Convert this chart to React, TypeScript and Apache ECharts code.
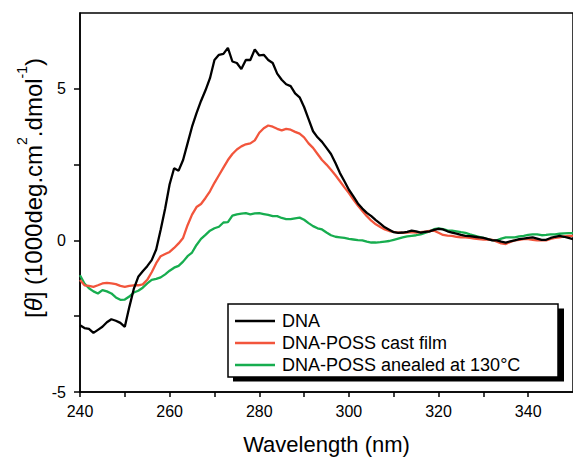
import React, { useEffect, useRef } from "react";
import * as echarts from "echarts";

const FONT = "'Liberation Sans', Arial, Helvetica, sans-serif";

const seriesNames = ["DNA", "DNA-POSS cast film", "DNA-POSS anealed at 130°C"];
const seriesColors = ["#000000", "#f2553c", "#17ad4f"];

const wavelengths = [
  240, 241, 242, 243, 244, 245, 246, 247, 248, 249,
  250, 251, 252, 253, 254, 255, 256, 257, 258, 259,
  260, 261, 262, 263, 264, 265, 266, 267, 268, 269,
  270, 271, 272, 273, 274, 275, 276, 277, 278, 279,
  280, 281, 282, 283, 284, 285, 286, 287, 288, 289,
  290, 291, 292, 293, 294, 295, 296, 297, 298, 299,
  300, 301, 302, 303, 304, 305, 306, 307, 308, 309,
  310, 311, 312, 313, 314, 315, 316, 317, 318, 319,
  320, 321, 322, 323, 324, 325, 326, 327, 328, 329,
  330, 331, 332, 333, 334, 335, 336, 337, 338, 339,
  340, 341, 342, 343, 344, 345, 346, 347, 348, 349,
  350,
];

const dnaValues = [
  -2.8, -2.89, -2.92, -3.05, -2.95, -2.85, -2.7, -2.6, -2.65, -2.72,
  -2.85, -2.2, -1.6, -1.2, -1.02, -0.85, -0.65, -0.3, 0.35, 1.05,
  1.85, 2.38, 2.3, 2.65, 3.2, 3.75, 4.2, 4.6, 4.95, 5.35,
  5.95, 6.12, 6.15, 6.35, 5.9, 5.85, 5.65, 5.95, 5.95, 6.3,
  6.1, 6.12, 5.95, 5.85, 5.5, 5.3, 5.15, 5.09, 4.85, 4.72,
  4.4, 4.0, 3.6, 3.4, 3.25, 3.05, 2.85, 2.55, 2.22, 1.95,
  1.67, 1.45, 1.22, 1.05, 0.91, 0.8, 0.67, 0.55, 0.43, 0.35,
  0.27, 0.25, 0.26, 0.28, 0.32, 0.3, 0.26, 0.28, 0.3, 0.35,
  0.38, 0.36, 0.3, 0.26, 0.22, 0.18, 0.15, 0.14, 0.12, 0.1,
  0.08, 0.04, 0.0, 0.0, -0.04, -0.07, -0.03, 0.0, 0.04, 0.06,
  0.08, 0.1, 0.06, 0.02, 0.02, 0.08, 0.12, 0.15, 0.12, 0.08,
  0.04,
];

const castFilmValues = [
  -1.31, -1.48, -1.5, -1.53, -1.48, -1.42, -1.4, -1.42, -1.44, -1.5,
  -1.53, -1.5, -1.48, -1.48, -1.45, -1.3, -1.05, -0.75, -0.52, -0.45,
  -0.38, -0.25, -0.1, 0.08, 0.5, 0.85, 1.1, 1.2, 1.4, 1.62,
  1.9, 2.15, 2.4, 2.65, 2.85, 3.0, 3.1, 3.17, 3.2, 3.3,
  3.55, 3.7, 3.79, 3.75, 3.68, 3.63, 3.68, 3.65, 3.58, 3.52,
  3.4, 3.2, 3.05, 2.85, 2.65, 2.5, 2.33, 2.15, 1.95, 1.75,
  1.56, 1.35, 1.15, 0.97, 0.8, 0.65, 0.53, 0.44, 0.36, 0.31,
  0.28, 0.26, 0.25, 0.26, 0.27, 0.26, 0.27, 0.29, 0.31, 0.32,
  0.25, 0.18, 0.16, 0.15, 0.12, 0.1, 0.1, 0.08, 0.06, 0.04,
  0.03, 0.03, 0.02, -0.04, -0.1, -0.12, -0.05, 0.0, 0.02, 0.04,
  0.04, 0.02, 0.0, 0.0, 0.0, 0.05, 0.08, 0.1, 0.13, 0.15,
  0.15,
];

const annealedValues = [
  -1.15, -1.42, -1.58, -1.68, -1.75, -1.64, -1.68, -1.75, -1.88, -1.96,
  -1.95, -1.85, -1.72, -1.66, -1.56, -1.42, -1.3, -1.27, -1.22, -1.12,
  -1.0, -0.9, -0.84, -0.7, -0.52, -0.4, -0.15, 0.05, 0.18, 0.32,
  0.4, 0.45, 0.59, 0.6, 0.82, 0.86, 0.88, 0.9, 0.86, 0.89,
  0.9, 0.87, 0.84, 0.8, 0.8, 0.74, 0.7, 0.7, 0.73, 0.75,
  0.68, 0.57, 0.47, 0.4, 0.36, 0.26, 0.17, 0.12, 0.1, 0.08,
  0.05, 0.03, 0.01, 0.0, -0.04, -0.07, -0.07, -0.06, -0.04, -0.02,
  0.02, 0.06, 0.1, 0.13, 0.15, 0.17, 0.2, 0.25, 0.3, 0.37,
  0.4, 0.37, 0.33, 0.32, 0.3, 0.27, 0.25, 0.2, 0.16, 0.12,
  0.08, 0.04, 0.01, 0.0, 0.06, 0.1, 0.1, 0.1, 0.13, 0.15,
  0.18, 0.2, 0.2, 0.17, 0.18, 0.2, 0.2, 0.22, 0.23, 0.24,
  0.24,
];

const xTickValues = [240, 250, 260, 270, 280, 290, 300, 310, 320, 330, 340];
const xLabelValues = [240, 260, 280, 300, 320, 340];
const yTickValues = [-5, -2.5, 0, 2.5, 5];
const yLabelValues = [-5, 0, 5];

const allValues = [dnaValues, castFilmValues, annealedValues];

export default function App() {
  const ref = useRef<HTMLDivElement>(null);

  useEffect(() => {
    if (!ref.current) return;
    const chart = echarts.init(ref.current, undefined, { renderer: "svg" });

    const series = seriesNames.map((name, k) => ({
      name,
      type: "line",
      symbol: "none",
      smooth: false,
      data: wavelengths.map((w, i) => [w, allValues[k][i]]),
      lineStyle: { color: seriesColors[k], width: 2.3 },
      itemStyle: { color: seriesColors[k] },
      z: 5 - k,
    }));

    // legend drawn with graphic elements (box with drop shadow)
    const legendBox = { x: 228, y: 304, w: 330, h: 73 };
    const rowYs = [321, 343, 365];
    const legendEls: any[] = [
      {
        type: "rect",
        z: 20,
        shape: { x: legendBox.x + 5, y: legendBox.y + 4.5, width: legendBox.w + 1, height: legendBox.h },
        style: { fill: "#000" },
      },
      {
        type: "rect",
        z: 21,
        shape: { x: legendBox.x, y: legendBox.y, width: legendBox.w, height: legendBox.h },
        style: { fill: "#fff", stroke: "#000", lineWidth: 1.5 },
      },
    ];
    seriesNames.forEach((name, k) => {
      legendEls.push({
        type: "line",
        z: 22,
        shape: { x1: 235, y1: rowYs[k], x2: 275, y2: rowYs[k] },
        style: { stroke: seriesColors[k], lineWidth: 2.3 },
      });
      legendEls.push({
        type: "text",
        z: 22,
        x: 282,
        y: rowYs[k],
        style: {
          text: name,
          fontSize: 18,
          fontFamily: FONT,
          fill: "#000",
          align: "left",
          verticalAlign: "middle",
        },
      });
    });

    const option = {
      animation: false,
      backgroundColor: "#ffffff",
      textStyle: { fontFamily: FONT },
      grid: {
        left: 80,
        top: 13,
        width: 495,
        height: 384,
        show: true,
        borderColor: "#000",
        borderWidth: 1.5,
        backgroundColor: "transparent",
      },
      xAxis: {
        type: "value",
        min: 240,
        max: 350,
        name: "Wavelength (nm)",
        nameLocation: "middle",
        nameGap: 41,
        nameTextStyle: { fontSize: 22, color: "#000", fontFamily: FONT },
        axisLine: { show: true, onZero: false, lineStyle: { color: "#000", width: 1.5 } },
        axisTick: {
          show: true,
          inside: false,
          length: 5,
          customValues: xTickValues,
          lineStyle: { color: "#000", width: 1.5 },
        },
        axisLabel: {
          customValues: xLabelValues,
          fontSize: 16,
          color: "#000",
          margin: 11,
          fontFamily: FONT,
        },
        splitLine: { show: false },
      },
      yAxis: {
        type: "value",
        min: -5,
        max: 7.5,
        axisLine: { show: true, onZero: false, lineStyle: { color: "#000", width: 1.5 } },
        axisTick: {
          show: true,
          inside: false,
          length: 6,
          customValues: yTickValues,
          lineStyle: { color: "#000", width: 1.5 },
        },
        axisLabel: {
          customValues: yLabelValues,
          fontSize: 16,
          color: "#000",
          margin: 14,
          fontFamily: FONT,
        },
        splitLine: { show: false },
      },
      graphic: [
        ...legendEls,
        {
          type: "text",
          x: 30,
          y: 188,
          rotation: Math.PI / 2,
          style: {
            text: "{n|[}{i|θ}{n|] (1000deg.cm}{s|2}{n|.dmol}{s|-1}{n|)}",
            align: "center",
            verticalAlign: "middle",
            fill: "#000",
            rich: {
              n: { fontSize: 24, fontFamily: FONT, fill: "#000", lineHeight: 30, verticalAlign: "bottom" },
              i: { fontSize: 24, fontFamily: FONT, fontStyle: "italic", fill: "#000", lineHeight: 30, verticalAlign: "bottom" },
              s: { fontSize: 14, fontFamily: FONT, fill: "#000", lineHeight: 30, verticalAlign: "top" },
            },
          },
        },
      ],
      series,
    };

    chart.setOption(option as any);
    return () => chart.dispose();
  }, []);

  return (
    <div
      ref={ref}
      style={{ position: "fixed", left: 0, top: 0, width: 573, height: 460, background: "#fff" }}
    />
  );
}
